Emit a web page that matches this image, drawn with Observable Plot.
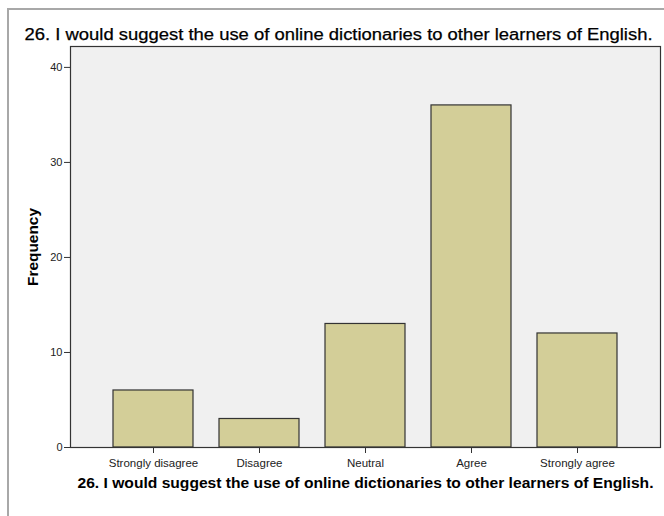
<!DOCTYPE html>
<html>
<head>
<meta charset="utf-8">
<script src="https://cdn.jsdelivr.net/npm/d3@7"></script>
<script src="https://cdn.jsdelivr.net/npm/@observablehq/plot@0.6"></script>
<style>
  body { margin: 0; background: #fff; font-family: "Liberation Sans", Arial, sans-serif; }
  #wrap { position: relative; width: 664px; height: 516px; overflow: hidden; }
  #frame { position: absolute; left: 7px; top: 8px; width: 700px; height: 600px;
           border-left: 2px solid #a8a8a8; border-top: 2px solid #a8a8a8; }
  #wrap svg { position: absolute; left: 0; top: 0; }
</style>
</head>
<body>
<div id="wrap"><div id="frame"></div></div>
<script>
const categories = ["Strongly disagree", "Disagree", "Neutral", "Agree", "Strongly agree"];
const frequencies = [6, 3, 13, 36, 12];
const yTicks = [0, 10, 20, 30, 40];
const titleText = "26. I would suggest the use of online dictionaries to other learners of English.";
const yLabel = "Frequency";

const data = categories.map((c, i) => ({cat: c, freq: frequencies[i]}));

const chart = Plot.plot({
  width: 664,
  height: 516,
  marginLeft: 70,
  marginRight: 4,
  marginTop: 46,
  marginBottom: 69,
  style: {fontFamily: "'Liberation Sans', Arial, sans-serif", fontSize: "11px", color: "#222", background: "transparent", overflow: "visible"},
  x: {domain: categories, paddingInner: 0.245, paddingOuter: 0.405, label: null},
  y: {domain: [0, 42.2], ticks: yTicks, label: null},
  marks: [
    Plot.frame({fill: "#f0f0f0", stroke: "none"}),
    Plot.barY(data, {x: "cat", y: "freq", fill: "#d3ce98", stroke: "#333", strokeWidth: 1.2}),
    Plot.frame({stroke: "#333", strokeWidth: 1.2}),
    Plot.axisY({ticks: yTicks, tickSize: 6, tickPadding: 2, fontSize: 11, stroke: "#333"}),
    Plot.axisX({tickSize: 6, tickPadding: 5, fontSize: 11.5, stroke: "#333"}),
    Plot.text([titleText], {className: "ttl-top", frameAnchor: "top-left", dx: -46, dy: -12, textAnchor: "start", fontSize: 16, fill: "#000", stroke: "#000", strokeWidth: 0.25, lineAnchor: "middle"}),
    Plot.text([titleText], {className: "ttl-bottom", frameAnchor: "bottom", dy: 36, fontSize: 15, fontWeight: "bold", fill: "#000", lineAnchor: "middle"}),
    Plot.text([yLabel], {className: "ylab", frameAnchor: "left", dx: -37, rotate: -90, textAnchor: "middle", fontSize: 15, fontWeight: "bold", fill: "#000"})
  ]
});
d3.select(chart).selectAll(".ttl-top text").attr("textLength", 628).attr("lengthAdjust", "spacingAndGlyphs");
d3.select(chart).selectAll(".ttl-bottom text").attr("textLength", 576).attr("lengthAdjust", "spacingAndGlyphs");
d3.select(chart).selectAll(".ylab text").attr("textLength", 78).attr("lengthAdjust", "spacingAndGlyphs");
document.getElementById("wrap").appendChild(chart);
</script>
</body>
</html>
